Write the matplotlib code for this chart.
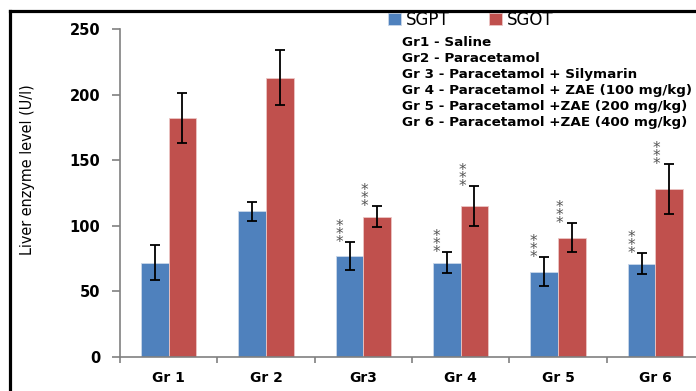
import numpy as np
import matplotlib
matplotlib.use('Agg')
import matplotlib.pyplot as plt
from matplotlib.lines import Line2D
from matplotlib import font_manager

# values
groups = ['Gr 1', 'Gr 2', 'Gr3', 'Gr 4', 'Gr 5', 'Gr 6']
sgpt = [72, 111, 77, 72, 65, 71]
sgpt_err = [13, 7, 10.5, 8, 11, 8]
sgot = [182, 213, 107, 115, 91, 128]
sgot_err = [19, 21, 8, 15, 11, 19]
sgpt_sig = ['', '', '***', '***', '***', '***']
sgot_sig = ['', '', '***', '***', '***', '***']
group_notes = ['Gr1 - Saline',
               'Gr2 - Paracetamol',
               'Gr 3 - Paracetamol + Silymarin',
               'Gr 4 - Paracetamol + ZAE (100 mg/kg)',
               'Gr 5 - Paracetamol +ZAE (200 mg/kg)',
               'Gr 6 - Paracetamol +ZAE (400 mg/kg)']

blue = '#4F81BD'
red = '#C0504D'
grey = '#808080'

# narrow font for the y label if there is one
fonts = [(f.name, f.stretch) for f in font_manager.fontManager.ttflist]
if any(n == 'Liberation Sans Narrow' for n, s in fonts):
    ylab_font = dict(family='Liberation Sans Narrow', fontsize=13)
elif any(n == 'DejaVu Sans' and s == 'condensed' for n, s in fonts):
    ylab_font = dict(family='DejaVu Sans', fontstretch='condensed', fontsize=11.5)
else:
    ylab_font = dict(family='DejaVu Sans', fontsize=10.3)

fig = plt.figure(figsize=(6.96, 3.91), dpi=100)
W, H = 696, 391
ax = fig.add_axes([120 / W, (H - 357) / H, 584 / W, 328 / H])

x = np.arange(len(groups)) + 0.5
bw = 0.283
ax.bar(x - bw / 2, sgpt, bw, color=blue, edgecolor='#c9d7ea', linewidth=0.6, label='SGPT')
ax.bar(x + bw / 2, sgot, bw, color=red, edgecolor='#ecc6c5', linewidth=0.6, label='SGOT')
ax.errorbar(x - bw / 2, sgpt, yerr=sgpt_err, fmt='none', ecolor='black',
            elinewidth=1.3, capsize=3.3, capthick=1.3)
ax.errorbar(x + bw / 2, sgot, yerr=sgot_err, fmt='none', ecolor='black',
            elinewidth=1.3, capsize=3.3, capthick=1.3)

# significance stars, stacked vertically left of the error bar
for xs, vals, errs, sigs, dx in [(x - bw / 2, sgpt, sgpt_err, sgpt_sig, -7.5),
                                 (x + bw / 2, sgot, sgot_err, sgot_sig, -9)]:
    for xi, v, e, s in zip(xs, vals, errs, sigs):
        if s:
            ax.annotate('\n'.join(s), (xi, v + e), xytext=(dx, -3.5),
                        textcoords='offset points', ha='center', va='baseline',
                        fontsize=11, linespacing=0.42, color='#555555')

ax.set_xlim(0, 6)
ax.set_ylim(0, 250)
ax.set_yticks([0, 50, 100, 150, 200, 250])
ax.set_xticks(np.arange(0, 7))
ax.set_xticklabels([])
ax.set_xticks(x, minor=True)
ax.set_xticklabels(groups, minor=True, fontweight='bold', fontsize=10)
ax.tick_params(axis='x', which='minor', length=0, pad=10)
ax.tick_params(axis='x', which='major', length=4, color=grey, width=1.2, direction='out')
ax.tick_params(axis='y', length=6, color=grey, width=1.2, direction='out', pad=8)
for lab in ax.get_yticklabels():
    lab.set_fontweight('bold')
    lab.set_fontsize(10.5)
for side in ['top', 'right']:
    ax.spines[side].set_visible(False)
for side in ['left', 'bottom']:
    ax.spines[side].set_color(grey)
    ax.spines[side].set_linewidth(1.2)
ax.set_ylabel('Liver enzyme level (U/l)', **ylab_font)
ax.yaxis.set_label_coords(35 / W, (H - 170) / H, transform=fig.transFigure)

ax.legend(loc='upper left', bbox_to_anchor=(388 / W, 1 - 11 / H),
          bbox_transform=fig.transFigure, ncol=2, frameon=False, fontsize=12,
          handlelength=0.75, handleheight=0.7, handletextpad=0.3, columnspacing=2.4,
          borderpad=0, borderaxespad=0)

for i, note in enumerate(group_notes):
    fig.text(402 / W, 1 - (42 + 16.1 * i) / H, note, fontsize=9.7, fontweight='bold',
             va='center', ha='left')

# thick outer frame (left and top edges visible)
fig.add_artist(Line2D([10 / W, 10 / W], [0, 1 - 11 / H], color='black', linewidth=2.3,
                      transform=fig.transFigure))
fig.add_artist(Line2D([10 / W, 1], [1 - 11 / H, 1 - 11 / H], color='black', linewidth=2.3,
                      transform=fig.transFigure))

fig.savefig('out.png', dpi=100)
